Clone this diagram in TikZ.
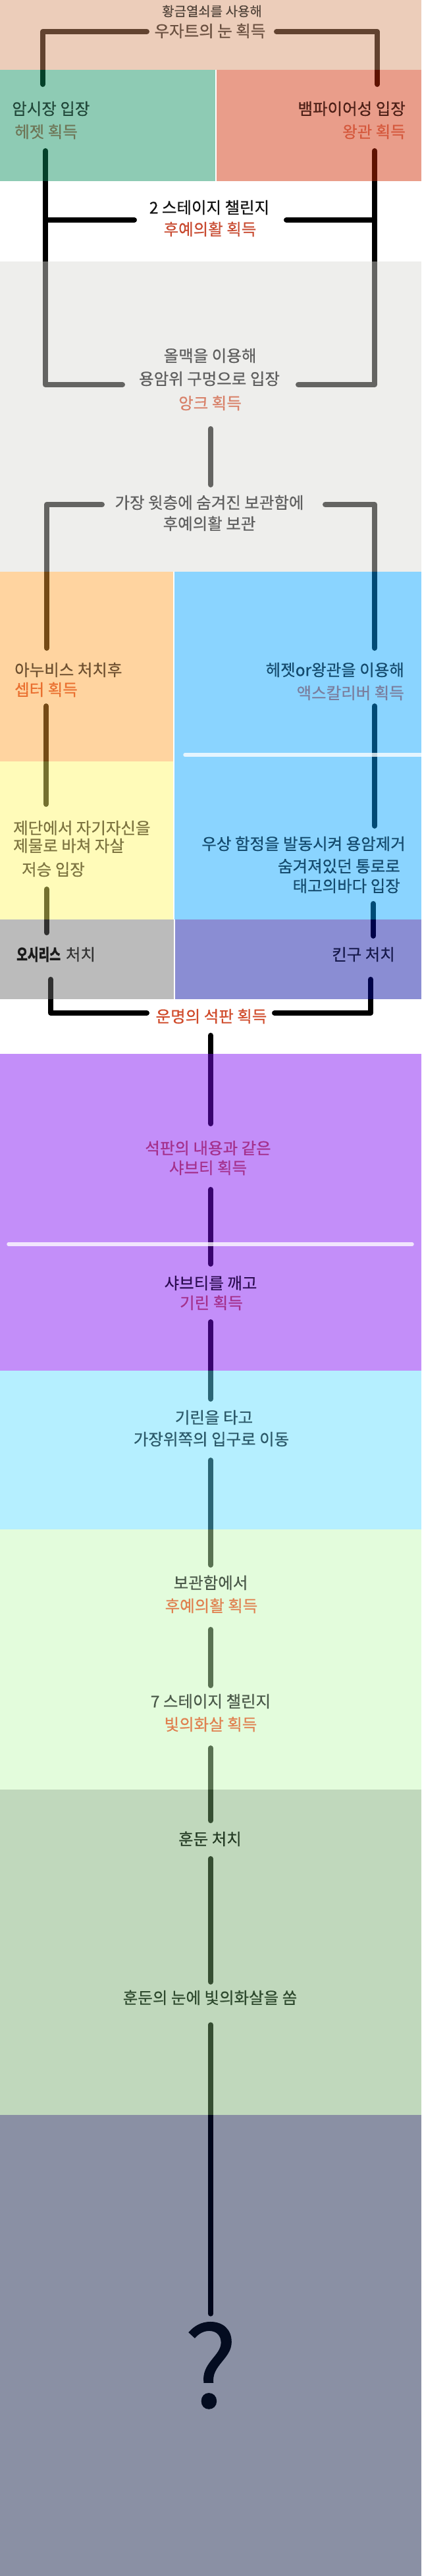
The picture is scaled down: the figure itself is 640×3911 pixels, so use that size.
\documentclass[tikz,border=0pt]{standalone}
\usepackage{fontspec}
\setmainfont{Noto Sans CJK KR}[FakeBold=0.6]
\pgfdeclarelayer{bands}
\pgfdeclarelayer{labels}
\pgfsetlayers{main,bands,labels}
% band base colours (seen through opacity 0.46 over white)
\definecolor{bPeach}{RGB}{214,148,105}
\definecolor{bGreen}{RGB}{9,142,92}
\definecolor{bRed}{RGB}{209,42,1}
\definecolor{bGrey}{RGB}{218,218,214}
\definecolor{bOrange}{RGB}{255,162,48}
\definecolor{bYellow}{RGB}{255,248,103}
\definecolor{bBlue}{RGB}{0,162,255}
\definecolor{bGreyB}{RGB}{107,107,107}
\definecolor{bIndigo}{RGB}{0,7,161}
\definecolor{bPurple}{RGB}{125,9,244}
\definecolor{bCyan}{RGB}{94,222,255}
\definecolor{bLGreen}{RGB}{196,250,179}
\definecolor{bSage}{RGB}{118,170,109}
\definecolor{bSlate}{RGB}{1,14,57}
% text colours
\definecolor{cTa}{HTML}{54463C}
\definecolor{cTb}{HTML}{6A5040}
\definecolor{cTc}{HTML}{21483A}
\definecolor{cTd}{HTML}{6E7556}
\definecolor{cTe}{HTML}{4D1F16}
\definecolor{cTf}{HTML}{D5583C}
\definecolor{cTg}{HTML}{111111}
\definecolor{cTh}{HTML}{C84A30}
\definecolor{cGreyT}{HTML}{5F5F5F}
\definecolor{cAnk}{HTML}{D88068}
\definecolor{cAnub}{HTML}{6E5030}
\definecolor{cScep}{HTML}{EA7030}
\definecolor{cBlueT}{HTML}{144B6E}
\definecolor{cExc}{HTML}{7A7E9E}
\definecolor{cOlive}{HTML}{7D7440}
\definecolor{cOsi}{HTML}{1A1A1A}
\definecolor{cOsiB}{HTML}{333333}
\definecolor{cKin}{HTML}{15184A}
\definecolor{cFate}{HTML}{D04A2A}
\definecolor{cMag}{HTML}{A4308C}
\definecolor{cDPur}{HTML}{2C0C52}
\definecolor{cTeal}{HTML}{2C5A6A}
\definecolor{cGG}{HTML}{4B5A4A}
\definecolor{cOr}{HTML}{E0804F}
\definecolor{cDG}{HTML}{233A23}
\definecolor{cDG2}{HTML}{2E4A2E}
\definecolor{cQ}{HTML}{040C20}
\begin{document}
\begin{tikzpicture}[x=1pt,y=-1pt,
  conn/.style={line width=8pt, line cap=round, line join=round, black},
  band/.style={fill opacity=0.46, draw=none},
  sepline/.style={white, opacity=0.78, line width=5.5pt, line cap=round},
  lbl/.style={inner sep=0pt, font=\fontsize{24.5}{29}\selectfont}]
\useasboundingbox (0,0) rectangle (640,3911);
\fill[white] (0,0) rectangle (640,3911);

% ---------- labels ----------
\begin{pgfonlayer}{labels}
\node[lbl, font=\fontsize{20}{24}\selectfont, anchor=base, text=cTa] (t1) at (322,24.5) {황금열쇠를 사용해};
\node[lbl, anchor=base, text=cTb] (t2) at (319,56.2) {우자트의 눈 획득};
\node[lbl, anchor=base west, text=cTc] (t3) at (18,174.2) {암시장 입장};
\node[lbl, anchor=base west, text=cTd] (t4) at (22,209.2) {헤젯 획득};
\node[lbl, anchor=base east, text=cTe] (t5) at (616,174.2) {뱀파이어성 입장};
\node[lbl, anchor=base east, text=cTf] (t6) at (616,209.2) {왕관 획득};
\node[lbl, anchor=base, text=cTg] (t7) at (318,324.2) {2 스테이지 챌린지};
\node[lbl, anchor=base, text=cTh] (t8) at (319,357.2) {후예의활 획득};
\node[lbl, anchor=base, text=cGreyT] (t9) at (319,549.2) {올맥을 이용해};
\node[lbl, anchor=base, text=cGreyT] (t10) at (318,584.2) {용암위 구멍으로 입장};
\node[lbl, anchor=base, text=cAnk] (t11) at (319,621.2) {앙크 획득};
\node[lbl, anchor=base, text=cGreyT] (t12) at (318,772.2) {가장 윗층에 숨겨진 보관함에};
\node[lbl, anchor=base, text=cGreyT] (t13) at (318,804.2) {후예의활 보관};
\node[lbl, anchor=base west, text=cAnub] (t14) at (22,1026.2) {아누비스 처치후};
\node[lbl, anchor=base west, text=cScep] (t15) at (22,1056.2) {셉터 획득};
\node[lbl, anchor=base east, text=cBlueT] (t16) at (614,1026.2) {헤젯or왕관을 이용해};
\node[lbl, anchor=base east, text=cExc] (t17) at (614,1061.2) {액스칼리버 획득};
\node[lbl, anchor=base west, text=cOlive] (t18) at (20,1266.2) {제단에서 자기자신을};
\node[lbl, anchor=base west, text=cOlive] (t19) at (20,1293.2) {제물로 바쳐 자살};
\node[lbl, anchor=base west, text=cOlive] (t20) at (33,1329.2) {저승 입장};
\node[lbl, anchor=base east, text=cBlueT] (t21) at (616,1290.2) {우상 함정을 발동시켜 용암제거};
\node[lbl, anchor=base east, text=cBlueT] (t22) at (608,1324.2) {숨겨져있던 통로로};
\node[lbl, anchor=base east, text=cBlueT] (t23) at (608,1354.2) {태고의바다 입장};
\node[lbl, anchor=base west, text=cOsiB] (t24) at (25,1458.2) {\textcolor{cOsi}{\scalebox{0.74}[1]{\bfseries 오시리스}}\hspace{8pt}처치};
\node[lbl, anchor=base east, text=cKin] (t25) at (600,1458.2) {킨구 처치};
\node[lbl, anchor=base, text=cFate] (t26) at (321,1552.2) {운명의 석판 획득};
\node[lbl, anchor=base, text=cMag] (t27) at (316,1752.2) {석판의 내용과 같은};
\node[lbl, anchor=base, text=cMag] (t28) at (316,1782.2) {샤브티 획득};
\node[lbl, anchor=base, text=cDPur] (t29) at (320,1957.2) {샤브티를 깨고};
\node[lbl, anchor=base, text=cMag] (t30) at (321,1987.2) {기린 획득};
\node[lbl, anchor=base, text=cTeal] (t31) at (325,2161.2) {기린을 타고};
\node[lbl, anchor=base, text=cTeal] (t32) at (321,2194.2) {가장위쪽의 입구로 이동};
\node[lbl, anchor=base, text=cGG] (t33) at (320,2412.2) {보관함에서};
\node[lbl, anchor=base, text=cOr] (t34) at (321,2447.2) {후예의활 획득};
\node[lbl, anchor=base, text=cGG] (t35) at (320,2592.2) {7 스테이지 챌린지};
\node[lbl, anchor=base, text=cOr] (t36) at (320,2627.2) {빛의화살 획득};
\node[lbl, anchor=base, text=cDG] (t37) at (319,2801.2) {훈둔 처치};
\node[lbl, anchor=base, text=cDG2] (t38) at (319,3042.2) {훈둔의 눈에 빛의화살을 쏨};
\node[lbl, font=\fontsize{170}{180}\selectfont, anchor=base, text=cQ] (t39) at (320,3655) {?};
\end{pgfonlayer}

% ---------- connector points ----------
\coordinate (a1) at (223,48);  \coordinate (a2) at (65,48);   \coordinate (a3) at (65,128);
\coordinate (b1) at (420,48);  \coordinate (b2) at (573,48);  \coordinate (b3) at (573,128);
\coordinate (c1) at (69,229);  \coordinate (c2) at (69,584);  \coordinate (c3) at (186,584);
\coordinate (d1) at (569,229); \coordinate (d2) at (569,584); \coordinate (d3) at (453,584);
\coordinate (e1) at (69,334);  \coordinate (e2) at (204,334);
\coordinate (f1) at (435,334); \coordinate (f2) at (569,334);
\coordinate (g1) at (320,651); \coordinate (g2) at (320,736);
\coordinate (h1) at (155,766); \coordinate (h2) at (71,766);  \coordinate (h3) at (71,984);
\coordinate (i1) at (494,766); \coordinate (i2) at (569,766); \coordinate (i3) at (569,984);
\coordinate (j1) at (70,1072); \coordinate (j2) at (70,1221);
\coordinate (k1) at (569,1072);\coordinate (k2) at (569,1254);
\coordinate (l1) at (71,1350); \coordinate (l2) at (71,1416);
\coordinate (m1) at (567,1372);\coordinate (m2) at (567,1421);
\coordinate (n1) at (77,1487); \coordinate (n2) at (77,1538); \coordinate (n3) at (223,1538);
\coordinate (o1) at (563,1487);\coordinate (o2) at (563,1538);\coordinate (o3) at (417,1538);
\coordinate (p1) at (320,1572);\coordinate (p2) at (320,1706);
\coordinate (q1) at (320,1806);\coordinate (q2) at (320,1919);
\coordinate (r1) at (320,2007);\coordinate (r2) at (320,2124);
\coordinate (s1) at (320,2217);\coordinate (s2) at (320,2376);
\coordinate (u1) at (320,2474);\coordinate (u2) at (320,2559);
\coordinate (v1) at (320,2654);\coordinate (v2) at (320,2764);
\coordinate (w1) at (320,2822);\coordinate (w2) at (320,3009);
\coordinate (z1) at (320,3074);\coordinate (z2) at (320,3513);

% ---------- connectors ----------
\draw[conn] (a1) -- (a2) -- (a3);
\draw[conn] (b1) -- (b2) -- (b3);
\draw[conn] (c1) -- (c2) -- (c3);
\draw[conn] (d1) -- (d2) -- (d3);
\draw[conn] (e1) -- (e2);
\draw[conn] (f1) -- (f2);
\draw[conn] (g1) -- (g2);
\draw[conn] (h1) -- (h2) -- (h3);
\draw[conn] (i1) -- (i2) -- (i3);
\draw[conn] (j1) -- (j2);
\draw[conn] (k1) -- (k2);
\draw[conn] (l1) -- (l2);
\draw[conn] (m1) -- (m2);
\draw[conn] (n1) -- (n2) -- (n3);
\draw[conn] (o1) -- (o2) -- (o3);
\draw[conn] (p1) -- (p2);
\draw[conn] (q1) -- (q2);
\draw[conn] (r1) -- (r2);
\draw[conn] (s1) -- (s2);
\draw[conn] (u1) -- (u2);
\draw[conn] (v1) -- (v2);
\draw[conn] (w1) -- (w2);
\draw[conn, line width=7.5pt] (z1) -- (z2);

% ---------- translucent bands ----------
\begin{pgfonlayer}{bands}
\fill[band, bPeach]  (0,0)    rectangle (640,106);
\fill[band, bGreen]  (0,106)  rectangle (327,275);
\fill[band, bRed]    (329,106) rectangle (640,275);
\fill[band, bGrey]   (0,397)  rectangle (640,868);
\fill[band, bOrange] (0,868)  rectangle (263,1156);
\fill[band, bYellow] (0,1156) rectangle (263,1396);
\fill[band, bBlue]   (265,868) rectangle (640,1396);
\fill[band, bGreyB]  (0,1396) rectangle (264,1517);
\fill[band, bIndigo] (266,1396) rectangle (640,1517);
\fill[band, bPurple] (0,1600) rectangle (640,2081);
\fill[band, bCyan]   (0,2081) rectangle (640,2322);
\fill[band, bLGreen] (0,2322) rectangle (640,2717);
\fill[band, bSage]   (0,2717) rectangle (640,3211);
\fill[band, bSlate]  (0,3211) rectangle (640,3911);
\draw[sepline] (281,1146) -- (644,1146);
\draw[sepline] (13,1889) -- (626,1889);
\end{pgfonlayer}
\end{tikzpicture}
\end{document}
